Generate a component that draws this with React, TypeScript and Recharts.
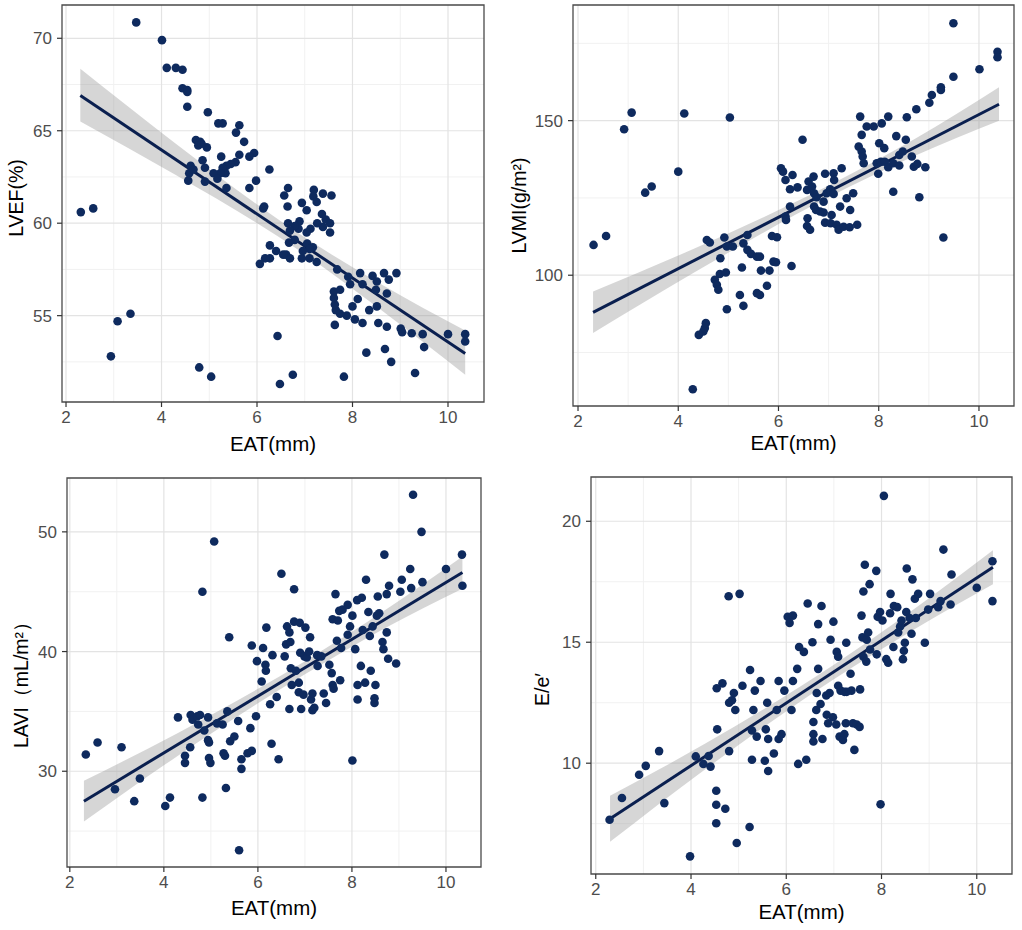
import React from 'react';
import {
  ComposedChart,
  Scatter,
  Line,
  Area,
  XAxis,
  YAxis,
  CartesianGrid,
  ReferenceArea,
  Label,
} from 'recharts';

// ---------- shared axis values ----------
const xTicks = [2, 4, 6, 8, 10];
const xMinor = [3, 5, 7, 9];
const xTitle = 'EAT(mm)';

// ---------- Panel A: LVEF ----------
const lvefPoints = [
  [3.47, 70.86], [4.01, 69.9], [4.11, 68.4], [4.3, 68.4], [4.44, 68.3], [4.44, 67.3], [4.54, 67.2], [4.54, 67.1], [4.54, 66.3], [4.97, 66.0],
  [2.31, 60.6], [2.57, 60.8], [2.94, 52.8], [3.08, 54.7], [3.35, 55.1], [4.79, 52.2], [5.04, 51.7], [6.43, 53.9], [6.48, 51.3], [6.75, 51.8],
  [7.82, 51.7], [9.31, 51.9], [8.29, 53.0], [8.68, 53.2], [8.81, 52.5], [10.0, 54.0], [10.36, 54.0], [10.36, 53.6], [9.5, 53.3], [9.47, 54.0],
  [9.24, 54.05], [9.04, 54.1], [9.01, 54.3], [8.92, 57.3], [8.76, 56.95], [8.66, 57.3], [8.72, 56.2], [8.72, 54.4], [8.54, 54.6], [8.42, 57.15],
  [8.51, 56.85], [8.49, 56.4], [8.51, 55.5], [8.35, 55.3], [8.21, 56.7], [8.16, 57.3], [8.21, 54.6], [8.05, 54.8], [8.11, 55.9], [8.0, 55.5],
  [7.91, 57.1], [7.95, 56.7], [7.88, 55.0], [7.74, 55.1], [7.65, 55.3], [7.63, 55.6], [7.61, 56.3], [7.61, 55.95], [7.74, 56.4], [7.68, 57.5],
  [7.63, 54.5], [7.56, 61.5], [7.38, 61.6], [7.19, 61.8], [7.18, 61.45], [7.25, 61.15], [7.36, 60.5], [7.44, 60.2], [7.53, 60.0], [7.53, 59.5],
  [7.38, 59.8], [7.26, 60.0], [7.12, 59.7], [7.04, 59.5], [7.05, 58.9], [7.17, 58.7], [7.1, 58.6], [7.25, 57.9], [6.96, 58.5], [6.94, 58.1],
  [7.1, 58.1], [7.04, 60.7], [6.94, 61.1], [6.89, 60.1], [6.87, 59.7], [6.79, 59.85], [6.69, 59.6], [6.79, 59.1], [6.67, 58.95], [6.64, 60.9],
  [6.57, 61.5], [6.65, 61.9], [6.65, 60.0], [6.61, 58.3], [6.69, 58.1], [6.55, 58.3], [6.4, 58.5], [6.27, 58.8], [6.26, 62.9], [6.27, 58.1],
  [6.17, 58.1], [6.06, 57.8], [6.15, 60.9], [6.13, 60.8], [5.98, 62.3], [5.84, 61.9], [5.94, 63.8], [5.84, 63.6], [5.73, 64.4], [5.63, 65.3],
  [5.56, 64.9], [5.63, 63.7], [5.55, 63.3], [5.45, 63.2], [5.36, 63.1], [5.28, 63.0], [5.28, 65.4], [5.19, 65.4], [5.25, 63.6], [5.34, 62.7],
  [5.23, 62.7], [5.09, 62.7], [5.17, 62.4], [5.36, 61.9], [4.91, 63.0], [4.91, 62.25], [4.86, 63.4], [4.95, 64.1], [4.72, 64.5], [4.81, 64.4],
  [4.77, 64.2], [4.84, 64.3], [4.61, 63.1], [4.58, 62.7], [4.56, 62.3], [4.67, 62.9],
];
const lvefTicks = [55, 60, 65, 70];
const lvefMinor = [52.5, 57.5, 62.5, 67.5];
const lvefFitX = [2.3, 10.36];
const lvefFitY = [66.9, 52.95];
const lvefBandX = [2.3, 4.3, 6.9, 8.6, 10.36];
const lvefBandLo = [65.5, 62.6, 58.5, 55.3, 51.8];
const lvefBandHi = [68.35, 64.3, 59.4, 56.7, 54.2];

// ---------- Panel B: LVMI ----------
const lvmiPoints = [
  [2.31, 109.8], [2.56, 112.7], [2.92, 147.2], [3.07, 152.6], [3.34, 126.7], [3.47, 128.7], [4.0, 133.5], [4.12, 152.3], [5.03, 151.0], [4.29, 63.1],
  [4.41, 80.7], [4.5, 81.8], [4.53, 82.9], [4.55, 84.5], [4.57, 111.4], [4.63, 110.6], [4.73, 98.5], [4.77, 96.9], [4.8, 95.3], [4.83, 100.4],
  [4.95, 100.9], [4.84, 105.5], [4.92, 112.2], [4.97, 109.3], [4.97, 89.0], [5.09, 109.3], [5.23, 93.6], [5.27, 102.5], [5.3, 90.1], [5.3, 110.3],
  [5.38, 113.0], [5.38, 108.2], [5.45, 106.9], [5.57, 106.0], [5.63, 106.0], [5.57, 94.2], [5.63, 93.6], [5.77, 96.6], [5.65, 101.5], [5.82, 101.5],
  [5.87, 112.7], [5.97, 112.3], [5.9, 104.4], [5.95, 104.2], [6.26, 103.0], [6.05, 134.6], [6.09, 133.5], [6.14, 130.8], [6.28, 132.4], [6.23, 127.8],
  [6.38, 128.4], [6.14, 119.0], [6.15, 117.9], [6.23, 122.2], [6.48, 143.8], [6.58, 118.4], [6.57, 115.9], [6.63, 114.7], [6.57, 127.6], [6.6, 130.3],
  [6.7, 131.9], [6.67, 128.7], [6.71, 126.5], [6.76, 125.2], [6.71, 122.2], [6.75, 121.1], [6.83, 120.6], [6.9, 123.8], [6.9, 120.3], [6.96, 126.5],
  [6.93, 132.8], [7.1, 133.0], [7.11, 130.8], [7.03, 127.8], [7.1, 126.3], [7.06, 119.5], [6.93, 117.0], [7.04, 116.8], [7.16, 116.3], [7.2, 114.7],
  [7.3, 115.7], [7.26, 134.6], [7.23, 122.2], [7.36, 124.9], [7.43, 121.1], [7.49, 126.5], [7.42, 115.5], [7.57, 116.3], [7.63, 151.3], [7.66, 145.4],
  [7.6, 141.6], [7.66, 140.0], [7.68, 138.4], [7.7, 136.2], [7.76, 148.1], [7.9, 148.1], [8.06, 149.1], [8.01, 142.7], [8.11, 141.1], [7.96, 136.2],
  [8.04, 136.7], [7.99, 132.8], [8.19, 151.3], [8.12, 136.7], [8.19, 134.9], [8.29, 127.0], [8.35, 145.0], [8.29, 136.2], [8.41, 135.5], [8.41, 138.9],
  [8.48, 140.0], [8.54, 143.8], [8.56, 151.1], [8.66, 138.4], [8.7, 135.1], [8.77, 136.0], [8.75, 153.7], [8.81, 125.2], [8.93, 134.9], [9.01, 155.8],
  [9.06, 158.3], [9.24, 160.8], [9.24, 159.9], [9.29, 112.2], [9.49, 181.5], [9.49, 164.2], [10.01, 166.6], [10.37, 172.3], [10.37, 170.5],
];
const lvmiTicks = [100, 150];
const lvmiMinor = [75, 125, 175];
const lvmiFitX = [2.3, 10.4];
const lvmiFitY = [88.0, 155.3];
const lvmiBandX = [2.3, 4.3, 7.0, 8.7, 10.4];
const lvmiBandLo = [81.3, 100.7, 125.2, 138.5, 150.0];
const lvmiBandHi = [94.7, 108.5, 129.0, 143.9, 160.8];

// ---------- Panel C: LAVI ----------
const laviPoints = [
  [2.34, 31.4], [2.59, 32.4], [2.96, 28.5], [3.1, 32.0], [3.37, 27.5], [3.49, 29.4], [4.03, 27.1], [4.13, 27.8], [4.3, 34.5], [4.45, 31.3],
  [4.45, 30.7], [4.56, 32.0], [4.57, 34.7], [4.61, 34.3], [4.71, 34.6], [4.77, 34.7], [4.73, 33.9], [4.82, 45.0], [4.82, 27.8], [4.86, 33.4],
  [4.94, 32.6], [4.96, 32.4], [4.94, 34.5], [4.96, 31.1], [4.99, 30.7], [5.07, 49.2], [5.13, 34.0], [5.25, 33.9], [5.27, 31.5], [5.3, 31.3],
  [5.32, 28.6], [5.35, 35.0], [5.39, 41.2], [5.41, 32.5], [5.5, 32.9], [5.58, 34.2], [5.6, 23.4], [5.65, 31.0], [5.65, 30.2], [5.78, 31.5],
  [5.87, 31.7], [5.84, 33.6], [5.87, 40.5], [5.96, 34.6], [5.98, 39.2], [6.08, 37.5], [6.11, 40.3], [6.16, 38.9], [6.17, 38.4], [6.18, 42.0],
  [6.26, 35.6], [6.29, 32.3], [6.31, 39.7], [6.4, 36.2], [6.44, 31.0], [6.5, 46.5], [6.57, 39.6], [6.6, 40.6], [6.62, 42.1], [6.67, 35.2],
  [6.67, 41.6], [6.69, 40.8], [6.7, 38.6], [6.72, 37.2], [6.77, 45.2], [6.77, 42.5], [6.81, 38.4], [6.87, 36.6], [6.87, 37.4], [6.89, 42.4],
  [6.9, 39.9], [6.92, 35.2], [6.97, 36.4], [6.99, 39.6], [7.01, 42.0], [7.04, 39.5], [7.09, 40.0], [7.11, 41.2], [7.13, 36.0], [7.16, 36.5],
  [7.16, 35.1], [7.2, 35.3], [7.26, 39.7], [7.27, 38.8], [7.35, 39.6], [7.4, 36.5], [7.45, 35.7], [7.52, 38.9], [7.57, 38.2], [7.59, 37.2],
  [7.61, 36.9], [7.59, 42.7], [7.65, 44.8], [7.7, 42.6], [7.68, 40.9], [7.73, 43.4], [7.75, 37.6], [7.77, 40.3], [7.8, 43.5], [7.91, 41.4],
  [7.91, 43.9], [7.96, 42.1], [8.01, 43.0], [8.01, 30.9], [8.07, 40.2], [8.11, 44.3], [8.12, 37.2], [8.12, 36.0], [8.19, 38.8], [8.21, 44.5],
  [8.23, 41.8], [8.28, 37.4], [8.3, 46.0], [8.35, 43.3], [8.38, 41.3], [8.4, 38.4], [8.44, 42.1], [8.48, 36.1], [8.48, 35.7], [8.5, 37.2],
  [8.53, 43.0], [8.55, 44.6], [8.58, 43.2], [8.65, 40.8], [8.67, 40.2], [8.69, 48.1], [8.74, 44.8], [8.74, 41.6], [8.77, 39.4], [8.79, 45.5],
  [8.94, 39.0], [9.03, 45.0], [9.06, 46.0], [9.24, 46.9], [9.26, 45.3], [9.3, 53.1], [9.48, 50.0], [9.5, 45.8], [10.0, 46.9], [10.34, 48.1],
  [10.35, 45.5],
];
const laviTicks = [30, 40, 50];
const laviMinor = [25, 35, 45];
const laviFitX = [2.3, 10.35];
const laviFitY = [27.5, 46.6];
const laviBandX = [2.3, 4.3, 7.0, 8.7, 10.35];
const laviBandLo = [25.8, 31.3, 38.1, 41.95, 45.25];
const laviBandHi = [29.2, 33.2, 39.2, 43.45, 47.95];

// ---------- Panel D: E/e' ----------
const eePoints = [
  [2.29, 7.66], [2.55, 8.56], [2.91, 9.52], [3.05, 9.89], [3.33, 10.5], [3.44, 8.35], [3.98, 6.15], [4.1, 10.28], [4.26, 9.97], [4.37, 10.3],
  [4.41, 9.86], [4.53, 8.86], [4.53, 8.28], [4.53, 7.52], [4.54, 13.1], [4.55, 11.4], [4.66, 13.3], [4.72, 8.12], [4.79, 16.9], [4.8, 10.5],
  [4.8, 12.5], [4.86, 12.6], [4.9, 12.9], [4.93, 12.2], [4.96, 6.7], [5.02, 17.0], [5.08, 13.2], [5.23, 7.36], [5.24, 13.85], [5.28, 11.35],
  [5.28, 10.14], [5.31, 12.2], [5.34, 13.0], [5.38, 11.1], [5.46, 13.4], [5.55, 10.1], [5.57, 11.4], [5.6, 12.5], [5.62, 9.68], [5.62, 11.0],
  [5.74, 10.4], [5.8, 12.2], [5.84, 13.4], [5.84, 11.0], [5.9, 11.2], [5.96, 13.0], [6.03, 16.05], [6.07, 15.8], [6.14, 16.1], [6.11, 12.2],
  [6.14, 13.4], [6.23, 13.9], [6.25, 9.97], [6.27, 14.8], [6.37, 14.6], [6.42, 10.14], [6.45, 16.6], [6.55, 15.0], [6.57, 11.7], [6.57, 11.2],
  [6.57, 10.9], [6.63, 12.2], [6.64, 12.9], [6.67, 13.9], [6.67, 15.75], [6.72, 12.45], [6.74, 16.5], [6.76, 11.0], [6.84, 12.8], [6.85, 12.0],
  [6.88, 11.65], [6.91, 12.9], [6.93, 15.1], [6.98, 11.9], [6.99, 15.85], [7.05, 11.6], [7.06, 14.6], [7.09, 14.4], [7.09, 13.2], [7.12, 11.1],
  [7.14, 13.0], [7.19, 10.96], [7.22, 11.2], [7.22, 12.95], [7.25, 11.65], [7.26, 14.98], [7.27, 12.95], [7.35, 13.7], [7.37, 13.0], [7.4, 11.65],
  [7.43, 10.55], [7.48, 11.6], [7.54, 11.5], [7.55, 13.05], [7.58, 16.1], [7.6, 15.2], [7.62, 17.1], [7.62, 14.4], [7.65, 18.2], [7.68, 14.2],
  [7.69, 15.1], [7.72, 15.4], [7.75, 17.4], [7.76, 14.7], [7.89, 17.95], [7.9, 14.5], [7.92, 16.05], [7.97, 16.25], [7.98, 8.3], [8.02, 15.9],
  [8.05, 21.05], [8.1, 14.3], [8.14, 14.15], [8.18, 16.2], [8.19, 17.0], [8.25, 14.8], [8.26, 16.5], [8.33, 16.45], [8.35, 15.4], [8.39, 15.65],
  [8.42, 15.9], [8.45, 14.3], [8.47, 14.65], [8.49, 14.98], [8.52, 16.25], [8.53, 18.05], [8.59, 16.0], [8.63, 15.35], [8.65, 17.6], [8.7, 16.8],
  [8.72, 16.0], [8.77, 17.0], [8.91, 14.98], [9.02, 17.0], [8.98, 16.35], [9.19, 16.45], [9.24, 16.7], [9.3, 18.83], [9.45, 16.56], [9.47, 17.8],
  [10.0, 17.25], [10.33, 18.35], [10.33, 16.7],
];
const eeTicks = [10, 15, 20];
const eeMinor = [7.5, 12.5, 17.5];
const eeFitX = [2.3, 10.34];
const eeFitY = [7.7, 18.1];
const eeBandX = [2.3, 4.3, 7.0, 8.7, 10.34];
const eeBandLo = [6.75, 9.75, 13.47, 15.55, 17.4];
const eeBandHi = [8.65, 10.81, 14.07, 16.39, 18.8];

// ---------- styling ----------
const POINT_COLOR = '#0e2a5e';
const LINE_COLOR = '#0a1f4f';
const TICK_COLOR = '#4d4d4d';
const FONT = '"Liberation Sans", Arial, Helvetica, sans-serif';

const YW = 80;
const TOP = 10;
const XH = 60;
const RIGHT = 10;

type PanelProps = {
  rect: { x: number; y: number; w: number; h: number };
  xDomain: [number, number];
  yDomain: [number, number];
  yTicks: number[];
  yMinor: number[];
  points: number[][];
  fitX: number[];
  fitY: number[];
  bandX: number[];
  bandLo: number[];
  bandHi: number[];
  yTitle: string;
  yTitleDx: number;
  yTitleDy: number;
  xTitleDy: number;
};

const Dot = (p: any) => <circle cx={p.cx} cy={p.cy} r={4.3} fill={POINT_COLOR} />;

function Panel(props: PanelProps) {
  const { rect, xDomain, yDomain, yTicks, yMinor, points, fitX, fitY, bandX, bandLo, bandHi } = props;
  const width = rect.w + YW + RIGHT;
  const height = rect.h + TOP + XH;
  const scatterData = points.map(([x, y]) => ({ x, y }));
  const fitData = fitX.map((x, i) => ({ x, y: fitY[i] }));
  const bandData = bandX.map((x, i) => ({ x, band: [bandLo[i], bandHi[i]] }));

  const xTitleX = YW + rect.w / 2;
  const xTitleY = TOP + rect.h + props.xTitleDy;
  const yTitleX = YW + props.yTitleDx;
  const yTitleY = TOP + rect.h / 2 + props.yTitleDy;

  return (
    <div style={{ position: 'absolute', left: rect.x - YW, top: rect.y - TOP }}>
      <ComposedChart
        width={width}
        height={height}
        margin={{ top: TOP, right: RIGHT, bottom: 0, left: 0 }}
        style={{ overflow: 'visible' }}
      >
        <CartesianGrid horizontalValues={yMinor} verticalValues={xMinor} stroke="#f1f1f1" strokeWidth={1} />
        <CartesianGrid horizontalValues={yTicks} verticalValues={xTicks} stroke="#e3e3e3" strokeWidth={1.2} />
        <XAxis
          type="number"
          dataKey="x"
          domain={xDomain}
          ticks={xTicks}
          allowDataOverflow
          height={XH}
          interval={0}
          axisLine={false}
          tickLine={{ stroke: '#333333', strokeWidth: 1.2 }}
          tickSize={5}
          tickMargin={4}
          tick={{ fill: TICK_COLOR, fontSize: 17 }}
        >
          <Label
            content={() => (
              <text x={xTitleX} y={xTitleY} textAnchor="middle" dominantBaseline="central" fontSize={20.5} fill="#000">
                {xTitle}
              </text>
            )}
          />
        </XAxis>
        <YAxis
          type="number"
          domain={yDomain}
          ticks={yTicks}
          allowDataOverflow
          width={YW}
          interval={0}
          axisLine={false}
          tickLine={{ stroke: '#333333', strokeWidth: 1.2 }}
          tickSize={5}
          tickMargin={5}
          tick={{ fill: TICK_COLOR, fontSize: 17 }}
        >
          <Label
            content={() => (
              <text
                x={yTitleX}
                y={yTitleY}
                textAnchor="middle"
                dominantBaseline="central"
                fontSize={19.5}
                fill="#000"
                transform={`rotate(-90 ${yTitleX} ${yTitleY})`}
              >
                {props.yTitle}
              </text>
            )}
          />
        </YAxis>
        <Scatter data={scatterData} dataKey="y" shape={Dot} isAnimationActive={false} />
        <Area
          data={bandData}
          dataKey="band"
          type="monotone"
          fill="#999999"
          fillOpacity={0.4}
          stroke="none"
          isAnimationActive={false}
          activeDot={false}
        />
        <Line data={fitData} dataKey="y" type="linear" stroke={LINE_COLOR} strokeWidth={3} dot={false} activeDot={false} isAnimationActive={false} />
        <ReferenceArea
          x1={xDomain[0]}
          x2={xDomain[1]}
          y1={yDomain[0]}
          y2={yDomain[1]}
          fill="none"
          fillOpacity={0}
          stroke="#4a4a4a"
          strokeWidth={1.3}
        />
      </ComposedChart>
    </div>
  );
}

export default function App() {
  return (
    <div
      style={{
        position: 'absolute',
        left: 0,
        top: 0,
        width: 1022,
        height: 930,
        background: '#ffffff',
        fontFamily: FONT,
        overflow: 'hidden',
      }}
    >
      <Panel
        rect={{ x: 62, y: 5, w: 422, h: 397 }}
        xDomain={[1.916, 10.754]}
        yDomain={[50.33, 71.8]}
        yTicks={lvefTicks}
        yMinor={lvefMinor}
        points={lvefPoints}
        fitX={lvefFitX}
        fitY={lvefFitY}
        bandX={lvefBandX}
        bandLo={lvefBandLo}
        bandHi={lvefBandHi}
        yTitle="LVEF(%)"
        yTitleDx={-46.5}
        yTitleDy={-5.5}
        xTitleDy={41}
      />
      <Panel
        rect={{ x: 573, y: 5, w: 441, h: 401 }}
        xDomain={[1.9, 10.699]}
        yDomain={[57.7, 187.4]}
        yTicks={lvmiTicks}
        yMinor={lvmiMinor}
        points={lvmiPoints}
        fitX={lvmiFitX}
        fitY={lvmiFitY}
        bandX={lvmiBandX}
        bandLo={lvmiBandLo}
        bandHi={lvmiBandHi}
        yTitle="LVMI(g/m²)"
        yTitleDx={-54}
        yTitleDy={0}
        xTitleDy={36}
      />
      <Panel
        rect={{ x: 67, y: 478, w: 414, h: 389 }}
        xDomain={[1.94, 10.745]}
        yDomain={[22.0, 54.5]}
        yTicks={laviTicks}
        yMinor={laviMinor}
        points={laviPoints}
        fitX={laviFitX}
        fitY={laviFitY}
        bandX={laviBandX}
        bandLo={laviBandLo}
        bandHi={laviBandHi}
        yTitle="LAVI（mL/m²）"
        yTitleDx={-46}
        yTitleDy={7.5}
        xTitleDy={40.5}
      />
      <Panel
        rect={{ x: 591, y: 477, w: 421, h: 397 }}
        xDomain={[1.9, 10.74]}
        yDomain={[5.42, 21.83]}
        yTicks={eeTicks}
        yMinor={eeMinor}
        points={eePoints}
        fitX={eeFitX}
        fitY={eeFitY}
        bandX={eeBandX}
        bandLo={eeBandLo}
        bandHi={eeBandHi}
        yTitle="E/e′"
        yTitleDx={-49.5}
        yTitleDy={14}
        xTitleDy={37}
      />
    </div>
  );
}
